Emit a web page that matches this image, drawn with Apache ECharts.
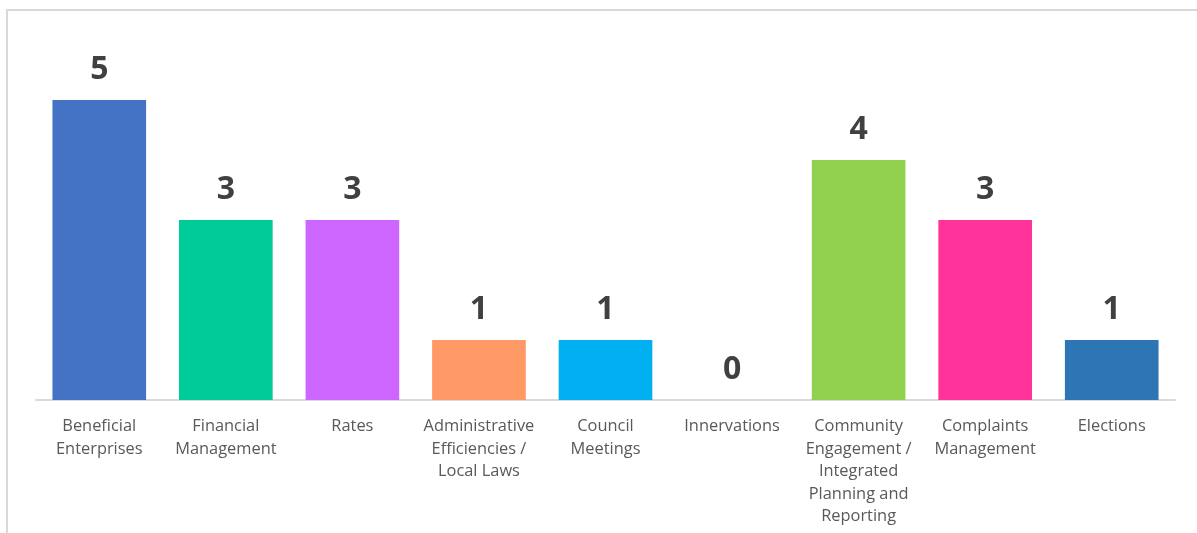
<!DOCTYPE html>
<html><head><meta charset="utf-8">
<script src="https://cdn.jsdelivr.net/npm/echarts@6/dist/echarts.min.js"></script>
<style>html,body{margin:0;padding:0;background:#fff}#c{width:1197px;height:533px}</style>
</head><body><div id="c"></div>
<script>
const categories = ["Beneficial\nEnterprises","Financial\nManagement","Rates","Administrative\nEfficiencies /\nLocal Laws","Council\nMeetings","Innervations","Community\nEngagement /\nIntegrated\nPlanning and\nReporting","Complaints\nManagement","Elections"];
const values = [5,3,3,1,1,0,4,3,1];
const colors = ["#4472C4","#00CC99","#CC66FF","#FF9966","#00B0F0","#A5A5A5","#92D050","#FF3399","#2E75B6"];
const chart = echarts.init(document.getElementById('c'));
chart.setOption({
  animation:false,
  graphic:[{type:'rect',shape:{x:7,y:10,width:1200,height:600},style:{fill:'none',stroke:'#d9d9d9',lineWidth:2},silent:true}],
  grid:{left:36,right:22,top:100,bottom:133},
  xAxis:{type:'category',data:categories,
    axisLine:{lineStyle:{color:'#d9d9d9',width:2}},axisTick:{show:false},
    axisLabel:{interval:0,margin:15,color:'#595959',fontSize:16.4,lineHeight:22.6,fontFamily:'Open Sans'}},
  yAxis:{type:'value',min:0,max:5,show:false,splitLine:{show:false}},
  series:[{type:'bar',barCategoryGap:'26%',
    data:values.map((v,i)=>({value:v,itemStyle:{color:colors[i]}})),
    label:{show:true,position:'top',distance:15,color:'#404040',fontSize:32,fontWeight:'bold',lineHeight:30,fontFamily:'Open Sans'}}]
});
</script></body></html>
